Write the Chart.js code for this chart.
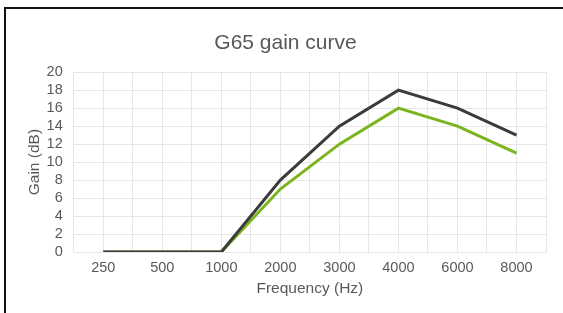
<!DOCTYPE html>
<html>
<head>
<meta charset="utf-8">
<script src="https://cdn.jsdelivr.net/npm/chart.js@4"></script>
<style>
  html, body { margin: 0; padding: 0; background: #fff; }
  #wrap { position: relative; width: 563px; height: 313px; }
  #frame { position: absolute; left: 4px; top: 7px; right: 0; bottom: 0;
           border-top: 2px solid #111; border-left: 2px solid #111; pointer-events: none; }
</style>
</head>
<body>
<div id="wrap">
  <canvas id="myChart" width="563" height="313"></canvas>
  <div id="frame"></div>
</div>
<script>
(() => {
    // data
    const frequencies = ['250', '500', '1000', '2000', '3000', '4000', '6000', '8000'];
    const darkGain = [0, 0, 0, 8, 14, 18, 16, 13];
    const greenGain = [0, 0, 0, 7, 12, 16, 14, 11];

    const toPoints = (vals) => vals.map((v, i) => ({ x: i, y: v }));
    const grey = '#595959';
    const font = 'Liberation Sans, Arial, sans-serif';

    const ctx = document.getElementById('myChart');

    new Chart(ctx, {
        type: 'line',
        data: {
          datasets: [{
            data: toPoints(darkGain),
            borderColor: '#3b3b3b',
            borderWidth: 3,
            pointRadius: 0,
            lineTension: 0
          }, {
            data: toPoints(greenGain),
            borderColor: '#7ab51d',
            borderWidth: 3,
            pointRadius: 0,
            lineTension: 0
          }]
        },
        options: {
            responsive: false,
            animation: false,
            layout: {
                padding: { left: 25, right: 17, top: 31, bottom: 15 }
            },
            scales: {
                x: {
                    type: 'linear',
                    min: -0.5,
                    max: frequencies.length - 0.5,
                    border: { display: false },
                    grid: { color: '#e6e6e6', drawTicks: false },
                    ticks: {
                        stepSize: 0.5,
                        autoSkip: false,
                        maxRotation: 0,
                        padding: 7,
                        color: grey,
                        font: { family: font, size: 14.5 },
                        callback: (v) => Number.isInteger(v) ? frequencies[v] : ''
                    },
                    title: {
                        display: true,
                        text: 'Frequency (Hz)',
                        color: grey,
                        font: { family: font, size: 15.5 },
                        padding: { top: -4, bottom: 0 }
                    }
                },
                y: {
                    min: 0,
                    max: 20,
                    border: { display: false },
                    grid: { color: '#e6e6e6', drawTicks: false },
                    ticks: {
                        stepSize: 2,
                        autoSkip: false,
                        padding: 11,
                        color: grey,
                        font: { family: font, size: 14.5 }
                    },
                    title: {
                        display: true,
                        text: 'Gain (dB)',
                        color: grey,
                        font: { family: font, size: 15.5 },
                        padding: { top: 0, bottom: -8 }
                    }
                }
            },
            plugins: {
                legend: { display: false },
                tooltip: { enabled: false },
                title: {
                    display: true,
                    text: 'G65 gain curve',
                    color: grey,
                    font: { family: font, size: 21, weight: 'normal' },
                    padding: { top: 0, bottom: 16 }
                }
            }
        }
    });
})();
</script>
</body>
</html>
